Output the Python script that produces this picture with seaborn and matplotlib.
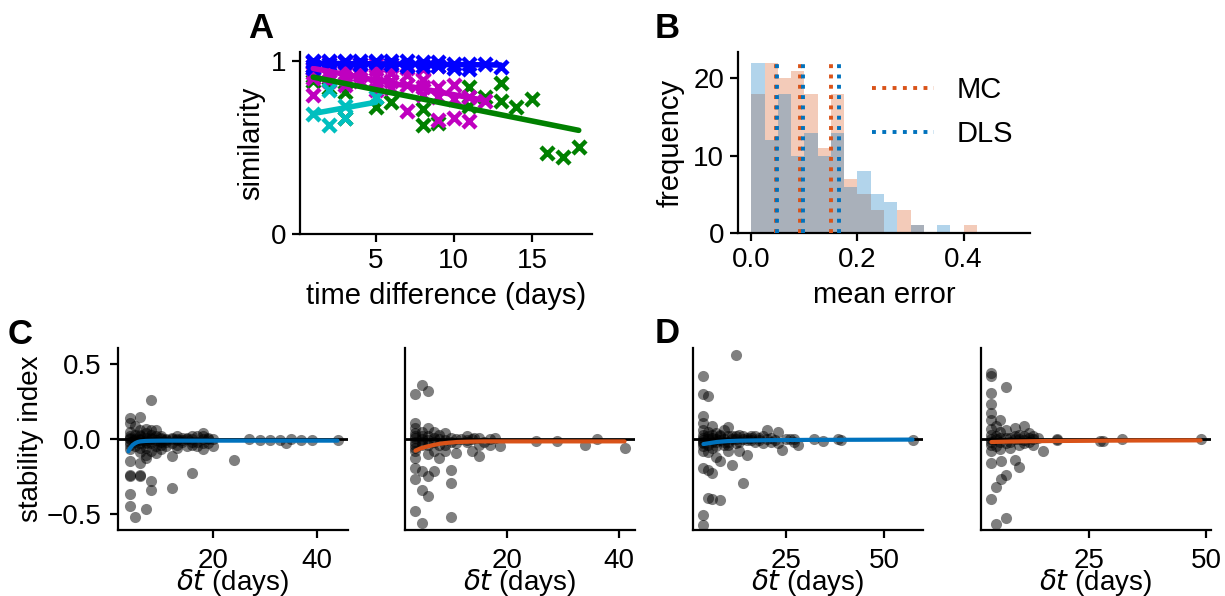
import matplotlib
matplotlib.use("Agg")
import matplotlib.pyplot as plt
from matplotlib.lines import Line2D
import pandas as pd
import seaborn as sns

# ---------------- Panel A data ----------------
a_blue_t = [1, 1, 1, 1, 2, 2, 3, 3, 4, 4, 5, 5, 6, 6, 7, 7, 8, 8, 9, 9, 10, 10, 11, 11, 12, 13]
a_blue_s = [1.0, 0.99, 0.97, 0.96, 1.0, 0.98, 1.0, 0.99, 1.0, 0.98, 1.0, 0.99, 1.0, 0.98,
            1.0, 0.97, 0.99, 0.97, 0.99, 0.97, 0.98, 0.96, 0.98, 0.95, 0.98, 0.965]
a_mag_t = [1, 1, 1, 1, 1, 1, 2, 2, 2, 2, 2, 3, 3, 3, 3, 3, 4, 4, 4, 4, 5, 5, 5, 5, 5,
           6, 6, 6, 6, 7, 7, 7, 7, 8, 8, 8, 8, 9, 9, 9, 9, 10, 10, 10, 11, 11, 12]
a_mag_s = [0.99, 0.97, 0.95, 0.93, 0.90, 0.80, 0.99, 0.97, 0.94, 0.91, 0.88,
           0.99, 0.96, 0.93, 0.90, 0.86, 0.98, 0.95, 0.92, 0.88, 0.98, 0.95, 0.91, 0.87, 0.83,
           0.97, 0.93, 0.88, 0.84, 0.96, 0.92, 0.86, 0.71, 0.95, 0.89, 0.85, 0.80,
           0.97, 0.85, 0.79, 0.66, 0.86, 0.78, 0.67, 0.79, 0.65, 0.77]
a_grn_t = [1, 1, 2, 3, 3, 5, 6, 8, 8, 9, 11, 11, 12, 13, 13, 14, 15, 16, 17, 18]
a_grn_s = [0.88, 0.91, 0.84, 0.82, 0.67, 0.73, 0.76, 0.72, 0.63, 0.64, 0.85, 0.74,
           0.79, 0.87, 0.77, 0.73, 0.78, 0.47, 0.445, 0.50]
a_cyan_t = [1, 2, 2, 3, 3, 5]
a_cyan_s = [0.69, 0.63, 0.83, 0.74, 0.67, 0.79]

a_fit_blue_t, a_fit_blue_s = [1, 13], [0.985, 0.975]
a_fit_mag_t, a_fit_mag_s = [1, 12], [0.955, 0.77]
a_fit_grn_t, a_fit_grn_s = [1, 18], [0.905, 0.598]
a_fit_cyan_t, a_fit_cyan_s = [1, 5], [0.695, 0.76]

# ---------------- Panel B data ----------------
b_edges = [0.0, 0.025, 0.05, 0.075, 0.1, 0.125, 0.15, 0.175, 0.2, 0.225, 0.25,
           0.275, 0.3, 0.325, 0.35, 0.375, 0.4, 0.425, 0.45, 0.475, 0.5]
b_mc_counts = [18, 22, 20, 21, 18, 11, 18, 7, 5, 3, 0, 3, 1, 0, 0, 0, 1, 0, 0, 0]
b_dls_counts = [22, 12, 18, 10, 13, 10, 13, 6, 8, 5, 4, 0, 1, 0, 1, 0, 0, 0, 0, 0]
b_mc_lines = [0.046, 0.091, 0.151]
b_dls_lines = [0.048, 0.098, 0.166]
b_line_top = 22.3

# ---------------- Panel C data ----------------
c1_dt = [4, 4, 4, 4, 4, 4, 4, 4, 4, 4, 4, 4, 4,
         5, 5, 5, 5, 5, 5,
         6, 6, 6, 6, 6, 6, 6, 6, 6, 6, 6,
         7, 7, 7, 7, 7, 7, 7, 7, 7,
         8, 8, 8, 8, 8, 8, 8, 8,
         9, 9, 9, 9, 9,
         10, 10, 10, 10, 10,
         11, 11, 11,
         12, 12, 12, 12,
         13, 13, 13, 13,
         14, 14, 15, 15,
         16, 16, 16, 16,
         17, 17,
         18, 18, 18, 18,
         19, 19, 20, 20,
         24, 27, 29, 31, 33, 34, 35, 37, 39, 44,
         4, 5, 6, 7, 8, 9, 10, 11, 12, 13, 14, 15, 16, 17, 18, 19]
c1_si = [0.14, 0.107, 0.05, 0.02, 0.0, -0.02, -0.04, -0.07, -0.15, -0.24, -0.25, -0.37, -0.45,
         0.085, 0.03, 0.0, -0.02, -0.05, -0.52,
         0.15, 0.06, 0.03, 0.0, -0.01, -0.03, -0.06, -0.09, -0.16, -0.24, -0.25,
         0.07, 0.04, 0.01, -0.01, -0.03, -0.06, -0.11, -0.13, -0.47,
         0.264, 0.06, 0.03, 0.0, -0.03, -0.08, -0.28, -0.34,
         0.063, 0.02, -0.02, -0.05, -0.094,
         0.01, 0.0, -0.02, -0.04, -0.07,
         0.0, -0.02, -0.05,
         0.0, -0.03, -0.116, -0.33,
         0.0, -0.01, -0.04, -0.06,
         0.01, -0.02, 0.0, -0.05,
         0.02, -0.02, -0.04, -0.23,
         0.02, -0.05,
         0.04, 0.0, -0.03, -0.07,
         0.01, -0.03, -0.05, 0.0,
         -0.14, 0.0, -0.005, -0.01, -0.01, -0.03, 0.0, -0.005, -0.01, -0.005,
         0.01, -0.01, 0.02, -0.02, 0.01, -0.01, 0.02, -0.01, 0.01, 0.02, -0.01, 0.01, 0.0, -0.02, 0.02, 0.0]
c1_fit_dt = [3.7, 4.0, 4.5, 5.0, 5.5, 6.0, 7.0, 8.0, 10.0, 15.0, 20.0, 30.0, 44.0]
c1_fit_si = [-0.083, -0.062, -0.04, -0.028, -0.02, -0.016, -0.013, -0.012, -0.011, -0.011, -0.011, -0.011, -0.011]

c2_dt = [3.6, 3.6, 3.6, 3.6, 3.6, 3.6, 3.6, 3.6, 3.6, 3.6, 3.6, 3.6,
         4.8, 4.8, 4.8, 4.8, 4.8, 4.8, 4.8,
         5.8, 5.8, 5.8, 5.8, 5.8, 5.8, 5.8,
         6.9, 6.9, 6.9, 6.9,
         7.8, 7.8, 7.8,
         8.9, 8.9, 8.9,
         9.9, 9.9, 9.9, 9.9,
         10.8, 10.8, 12.8, 12.8, 13.7, 13.7,
         14.9, 14.9, 14.9, 17.0, 17.0, 17.9, 18.8,
         25.1, 29.0, 34.0, 36.1, 41.0,
         3.6, 3.6, 4.8, 4.8, 5.8, 6.9, 7.8, 8.9, 9.9, 10.8, 11.8, 12.8, 14.0, 15.9]
c2_si = [0.30, 0.107, 0.074, 0.04, 0.01, -0.02, -0.04, -0.08, -0.13, -0.195, -0.27, -0.485,
         0.365, 0.05, 0.0, -0.04, -0.217, -0.34, -0.564,
         0.324, 0.074, 0.02, -0.04, -0.10, -0.25, -0.385,
         0.05, -0.02, -0.08, -0.217,
         0.03, -0.04, -0.13,
         0.04, -0.04, -0.08,
         -0.02, -0.206, -0.295, -0.52,
         0.0, -0.094, 0.02, -0.02, 0.0, -0.083,
         0.01, -0.04, -0.116, 0.0, -0.04, 0.01, -0.045,
         -0.016, -0.016, -0.04, 0.0, -0.06,
         0.02, -0.06, 0.02, -0.02, -0.01, 0.01, 0.0, -0.01, 0.01, -0.03, 0.0, -0.01, 0.01, -0.02]
c2_fit_dt = [3.6, 4.5, 5.7, 7.0, 8.1, 9.5, 11.1, 13.0, 15.8, 20.0, 30.0, 41.0]
c2_fit_si = [-0.078, -0.063, -0.05, -0.039, -0.031, -0.025, -0.02, -0.018, -0.016, -0.016, -0.016, -0.016]

# ---------------- Panel D data ----------------
d1_dt = [3.8, 3.8, 3.8, 3.8, 3.8, 3.8, 3.8, 3.8, 3.8, 3.8, 3.8, 3.8, 3.8, 3.8,
         5, 5, 5, 5, 5, 5, 5,
         6, 6, 6, 6, 6, 6,
         7, 7, 7, 7,
         8, 8, 8, 8,
         9, 9, 9,
         10, 10, 10, 10,
         11, 11, 12, 12, 12, 13, 13, 14, 14, 15, 15,
         16, 16, 17, 18, 19, 20, 20, 21, 23, 23, 24, 26, 27, 27, 28,
         32, 34.4, 38.2, 39, 57.3,
         3.8, 5, 6, 7, 8, 9, 10, 11, 12, 13, 14, 15, 16, 17, 18, 19, 21, 22, 25]
d1_si = [0.42, 0.30, 0.152, 0.107, 0.06, 0.03, 0.01, -0.01, -0.03, -0.05, -0.08, -0.195, -0.508, -0.575,
         0.286, 0.05, 0.0, -0.04, -0.09, -0.206, -0.396,
         0.085, 0.03, -0.02, -0.06, -0.228, -0.40,
         0.04, 0.0, -0.05, -0.12,
         0.03, -0.01, -0.15, -0.407,
         0.06, 0.0, -0.04,
         0.078, 0.02, -0.02, -0.08,
         0.0, -0.172, 0.56, 0.02, -0.03, 0.03, -0.083, 0.0, -0.295, 0.01, -0.105,
         0.02, -0.01, -0.02, 0.01, -0.03, 0.063, 0.0, -0.02, 0.047, -0.03, -0.072, 0.0, 0.0, -0.02, -0.04,
         0.0, -0.015, 0.0, -0.005, -0.005,
         -0.02, 0.02, 0.01, -0.02, 0.02, -0.02, -0.04, 0.02, 0.0, -0.02, 0.02, -0.01, 0.01, 0.02, -0.01, 0.02, 0.01, -0.01, 0.0]
d1_fit_dt = [3.8, 5.0, 7.2, 10.0, 13.2, 20.0, 30.0, 45.0, 57.3]
d1_fit_si = [-0.034, -0.029, -0.02, -0.014, -0.011, -0.008, -0.006, -0.005, -0.004]

d2_dt = [4.07, 4.07, 4.07, 4.07, 4.07, 4.07, 4.07, 4.07, 4.07, 4.07, 4.07, 4.07, 4.07,
         5, 5, 5, 5, 5,
         5.85, 5.85, 5.85, 5.85,
         6.2, 6.2,
         7.1, 7.1, 7.1, 7.1, 7.1,
         8, 8,
         9.06, 9.06, 9.06,
         10, 10, 10,
         11, 11, 11,
         12, 12, 13, 13, 14, 15.1,
         18, 18, 27.3, 28, 31.9, 48.8,
         4.07, 5, 5.85, 7.1, 8, 9.06, 10, 11, 12, 13]
d2_si = [0.443, 0.42, 0.31, 0.235, 0.175, 0.13, 0.07, 0.03, 0.0, -0.04, -0.08, -0.16, -0.40,
         0.09, 0.02, -0.05, -0.324, -0.57,
         0.13, 0.05, -0.02, -0.07,
         -0.145, -0.266,
         0.35, 0.06, -0.03, -0.24, -0.53,
         0.01, -0.06,
         0.074, 0.0, -0.139,
         0.03, -0.04, -0.19,
         0.09, 0.02, -0.03,
         0.04, -0.02, 0.0, -0.04, 0.01, -0.083,
         0.0, -0.01, -0.015, -0.015, 0.0, 0.0,
         -0.02, 0.0, 0.01, 0.01, -0.02, 0.02, 0.0, -0.01, 0.01, 0.02]
d2_fit_dt = [4.07, 8.0, 15.0, 25.0, 35.0, 48.8]
d2_fit_si = [-0.02, -0.017, -0.014, -0.012, -0.010, -0.009]

# ---------------- style ----------------
sns.set_theme(style="ticks")
plt.rcParams["font.family"] = ["Liberation Sans", "DejaVu Sans"]
plt.rcParams["mathtext.fontset"] = "dejavusans"
plt.rcParams["font.size"] = 10
plt.rcParams["axes.labelsize"] = 10.5
plt.rcParams["xtick.labelsize"] = 10
plt.rcParams["ytick.labelsize"] = 10
plt.rcParams["axes.linewidth"] = 0.8
plt.rcParams["xtick.major.size"] = 3
plt.rcParams["ytick.major.size"] = 3
plt.rcParams["xtick.major.width"] = 0.8
plt.rcParams["ytick.major.width"] = 0.8
plt.rcParams["xtick.color"] = "black"
plt.rcParams["ytick.color"] = "black"
plt.rcParams["axes.edgecolor"] = "black"
plt.rcParams["text.color"] = "black"
plt.rcParams["axes.labelcolor"] = "black"

MC = "#D95319"
DLS = "#0072BD"
BLUE = "#0000FF"
MAG = "#BF00BF"
GRN = "#008000"
CYAN = "#00BFBF"

W, H = 1225, 596
fig = plt.figure(figsize=(W / 200, H / 200), dpi=200)


def box(l, t, r, b):
    return [l / W, 1 - b / H, (r - l) / W, (b - t) / H]


# ---------------- Panel A ----------------
axA = fig.add_axes(box(300, 52, 592, 234))
for t, s, c in [(a_grn_t, a_grn_s, GRN), (a_mag_t, a_mag_s, MAG),
                (a_cyan_t, a_cyan_s, CYAN), (a_blue_t, a_blue_s, BLUE)]:
    sns.scatterplot(x=t, y=s, marker="x", color=c, s=22, linewidth=1.6, ax=axA, zorder=2)
for t, s, c in [(a_fit_mag_t, a_fit_mag_s, MAG), (a_fit_grn_t, a_fit_grn_s, GRN),
                (a_fit_blue_t, a_fit_blue_s, BLUE), (a_fit_cyan_t, a_fit_cyan_s, CYAN)]:
    sns.lineplot(x=t, y=s, color=c, lw=2.0, ax=axA, zorder=3)
axA.set_ylim(0, 1.05)
axA.set_yticks([0, 1])
axA.set_yticklabels(["0", "1"])
axA.set_xticks([5, 10, 15])
axA.set_xlabel("time difference (days)", labelpad=3)
axA.set_ylabel("similarity", labelpad=2)
axA.tick_params(pad=2)
sns.despine(ax=axA)

# ---------------- Panel B ----------------
axB = fig.add_axes(box(738, 52, 1030, 233))
centers = [(lo + hi) / 2 for lo, hi in zip(b_edges[:-1], b_edges[1:])]
dfB = pd.DataFrame({"err": centers + centers,
                    "count": b_mc_counts + b_dls_counts,
                    "method": ["MC"] * len(centers) + ["DLS"] * len(centers)})
for name, col in [("MC", MC), ("DLS", DLS)]:
    sub = dfB[dfB["method"] == name]
    sns.histplot(data=sub, x="err", weights="count", bins=b_edges, color=col, alpha=0.3,
                 linewidth=0, ax=axB)
for m, d in zip(b_mc_lines, b_dls_lines):
    axB.vlines(m, 0, b_line_top, colors=MC, linestyles=":", lw=1.4, zorder=3)
    axB.vlines(d, 0, b_line_top, colors=DLS, linestyles=":", lw=1.4, zorder=3)
axB.set_xticks([0.0, 0.2, 0.4])
axB.set_xticklabels(["0.0", "0.2", "0.4"])
axB.set_yticks([0, 10, 20])
axB.set_xlabel("mean error", labelpad=3)
axB.set_ylabel("frequency", labelpad=3)
axB.tick_params(pad=2)
handles = [Line2D([], [], color=MC, ls=":", lw=1.4), Line2D([], [], color=DLS, ls=":", lw=1.4)]
axB.legend(handles, ["MC", "DLS"], frameon=False, loc="upper left",
           bbox_to_anchor=(0.42, 0.93), borderaxespad=0, handlelength=2.1,
           handletextpad=0.8, labelspacing=0.55, fontsize=10.5)
sns.despine(ax=axB)

# ---------------- Panels C, D ----------------
panels = [
    (118, c1_dt, c1_si, c1_fit_dt, c1_fit_si, DLS, [20, 40]),
    (405, c2_dt, c2_si, c2_fit_dt, c2_fit_si, MC, [20, 40]),
    (693, d1_dt, d1_si, d1_fit_dt, d1_fit_si, DLS, [25, 50]),
    (981, d2_dt, d2_si, d2_fit_dt, d2_fit_si, MC, [25, 50]),
]
for i, (left, xs, ys, fx, fy, col, xt) in enumerate(panels):
    ax = fig.add_axes(box(left, 348, left + 230, 530))
    ax.axhline(0, color="black", lw=1.0, zorder=1)
    sns.scatterplot(x=xs, y=ys, color="black", alpha=0.5, s=16, linewidth=0, ax=ax, zorder=2)
    sns.lineplot(x=fx, y=fy, color=col, lw=1.5, ax=ax, zorder=3)
    ax.set_ylim(-0.61, 0.61)
    ax.set_xticks(xt)
    ax.tick_params(axis="x", pad=3.5)
    ax.set_xlabel(r"$\delta t$ (days)", labelpad=-2.5, fontsize=10)
    if i == 0:
        ax.set_yticks([-0.5, 0.0, 0.5])
        ax.set_yticklabels(["\u22120.5", "0.0", "0.5"])
        ax.set_ylabel("stability index", labelpad=1, fontsize=10)
        ax.tick_params(axis="y", pad=3)
    else:
        ax.set_yticks([])
    sns.despine(ax=ax)

# ---------------- panel letters ----------------
for lbl, x, y in [("A", 248, 38), ("B", 655, 38), ("C", 8, 344), ("D", 655, 343)]:
    fig.text(x / W, 1 - y / H, lbl, fontsize=12.5, fontweight="bold", va="baseline", ha="left")

fig.savefig("out.png", dpi=200)
